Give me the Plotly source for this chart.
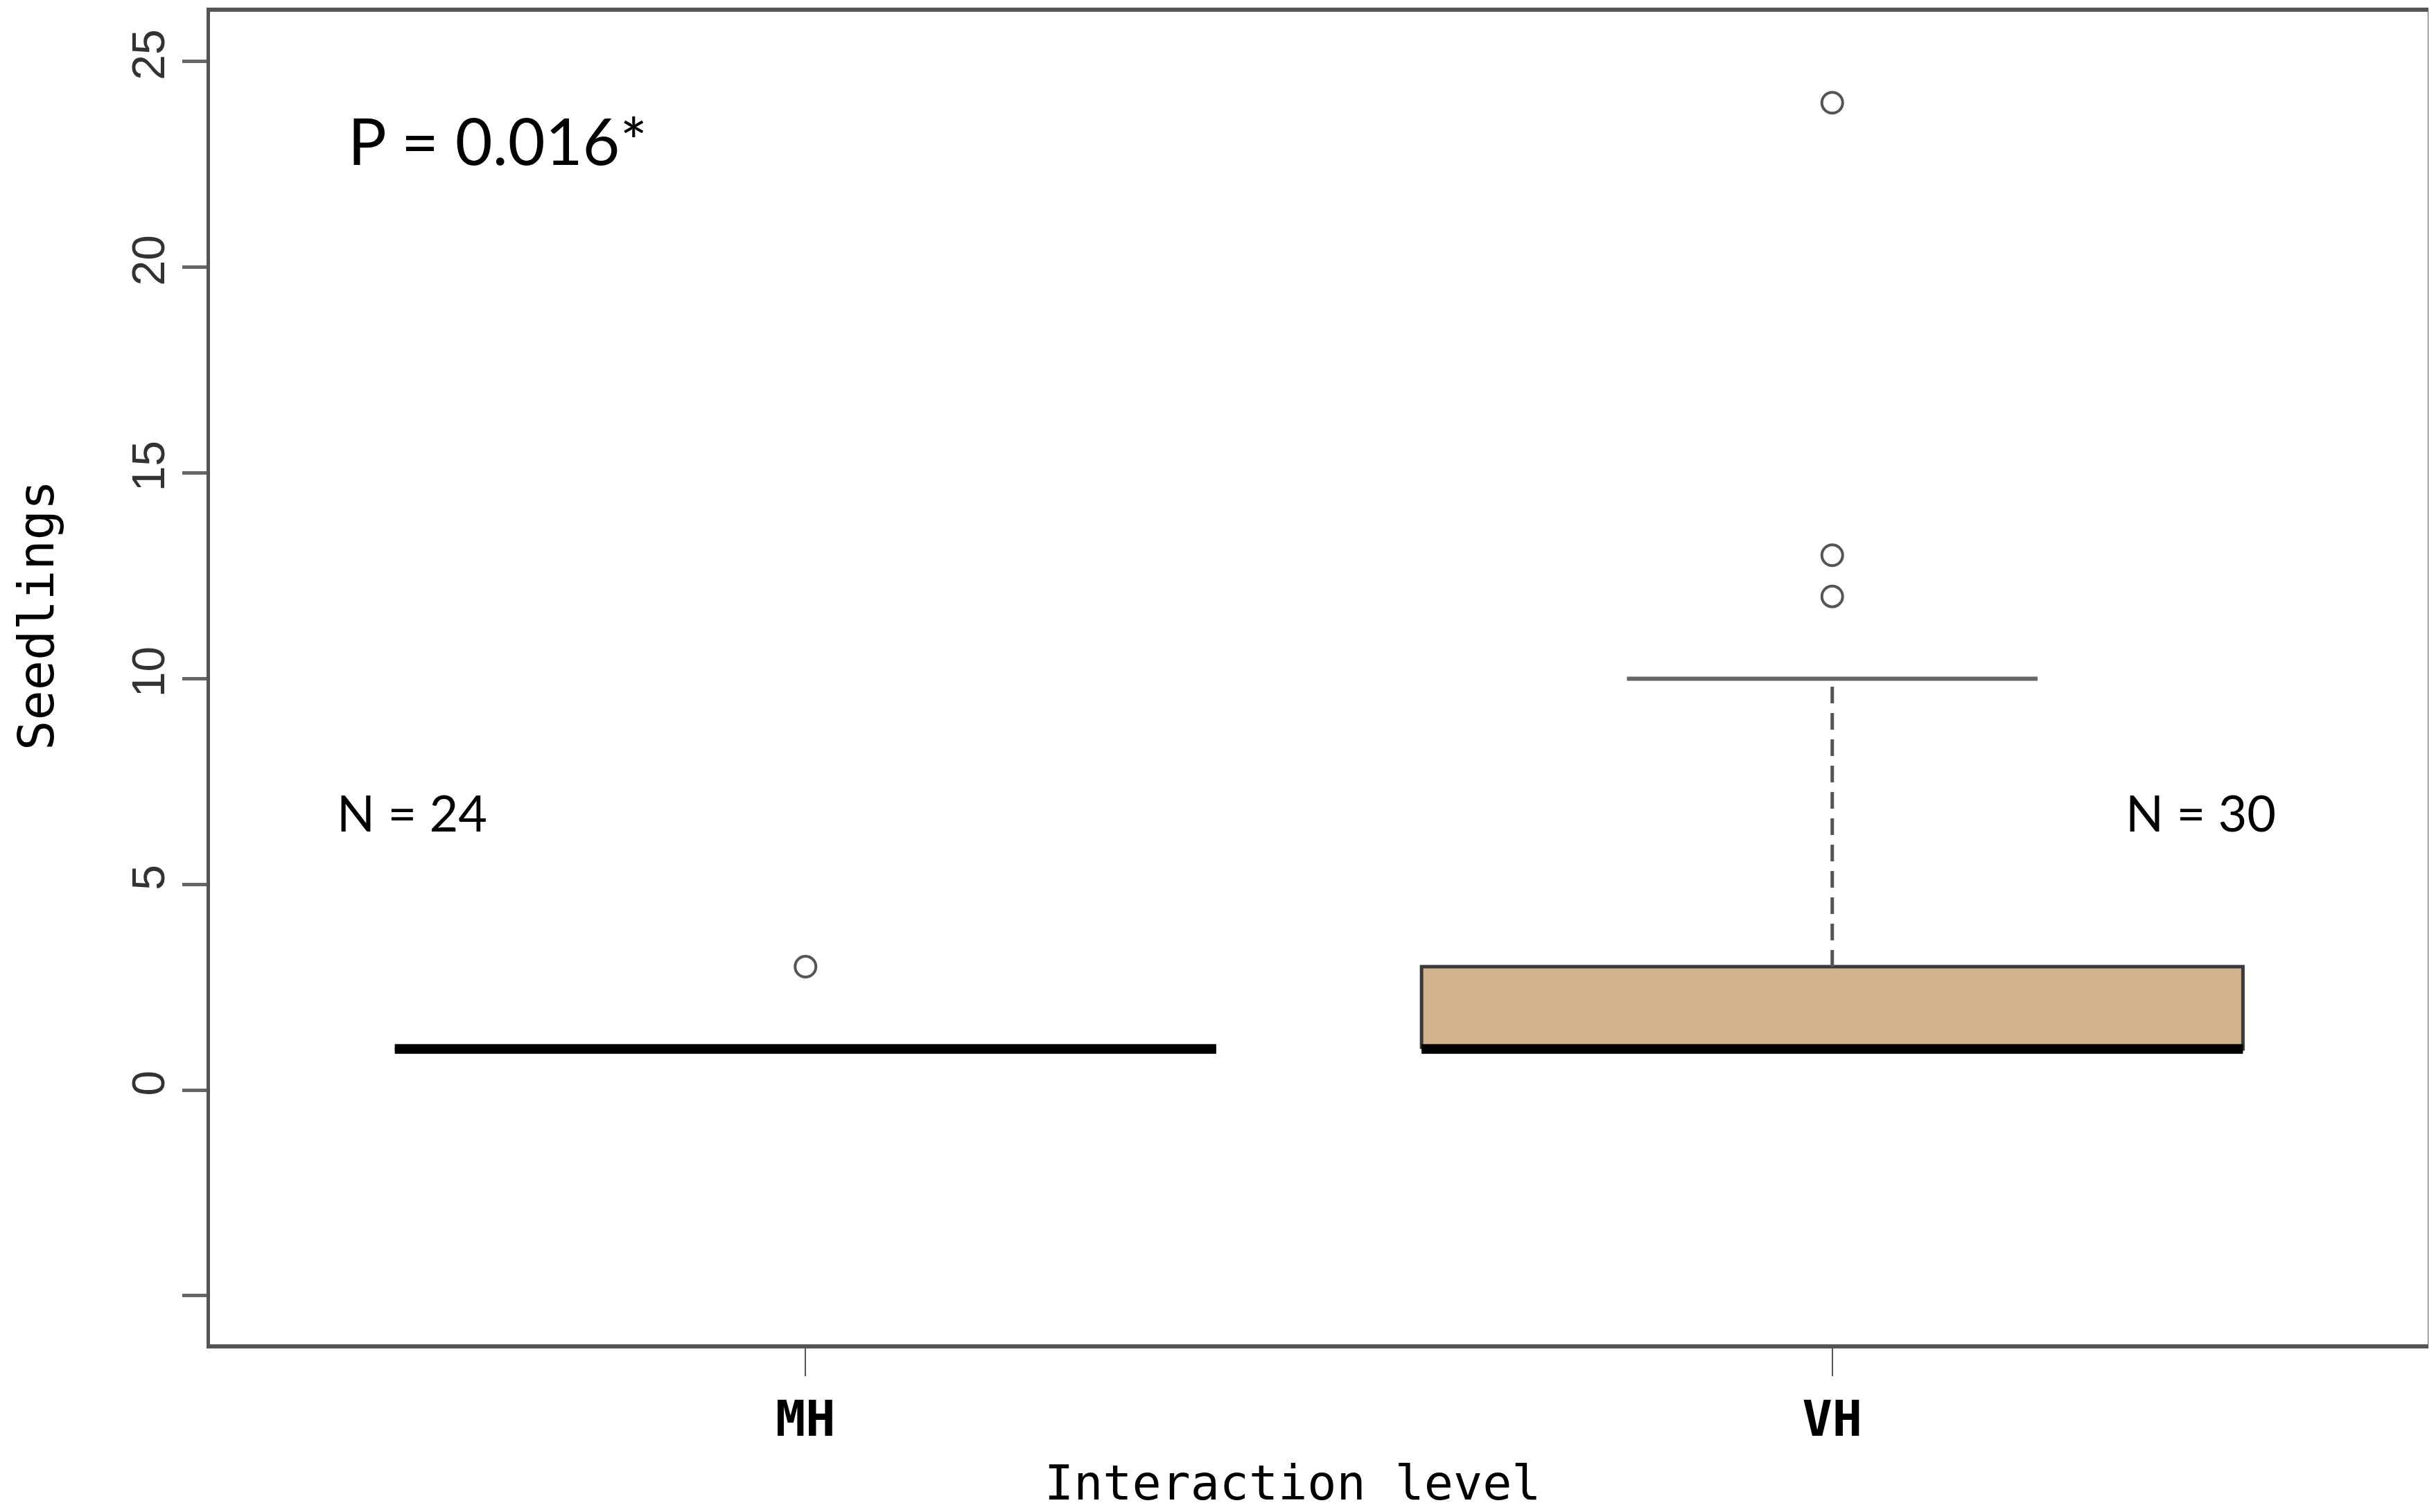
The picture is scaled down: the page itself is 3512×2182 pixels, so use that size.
import plotly.graph_objects as go

# box statistics
groups = ["MH", "VH"]
group_pos = [1, 2]
q1 = [1, 1]
median = [1, 1]
q3 = [1, 3]
lower_whisker = [1, 1]
upper_whisker = [1, 10]
outliers = [[3], [12, 13, 24]]
n_obs = [24, 30]
n_label_x = [0.617, 2.359]
n_label_y = 6.75
p_text = "P = 0.016*"

y_ticks = [-5, 0, 5, 10, 15, 20, 25]
y_tick_text = ["", "0", "5", "10", "15", "20", "25"]

BOX_HALF = 0.4
CAP_HALF = 0.2
TAN = "#D2B48C"

fig = go.Figure()

for i, g in enumerate(groups):
    x0 = group_pos[i] - BOX_HALF
    x1 = group_pos[i] + BOX_HALF
    # box body
    fig.add_trace(go.Scatter(
        x=[x0, x1, x1, x0, x0],
        y=[q1[i], q1[i], q3[i], q3[i], q1[i]],
        mode="lines", fill="toself", fillcolor=TAN,
        line=dict(color="#3a3a3a", width=5),
        showlegend=False, hoverinfo="skip"
    ))
    # whiskers (dashed)
    fig.add_trace(go.Scatter(
        x=[group_pos[i], group_pos[i], None, group_pos[i], group_pos[i]],
        y=[q3[i], upper_whisker[i], None, q1[i], lower_whisker[i]],
        mode="lines", line=dict(color="#555555", width=5, dash="24px,14px"),
        showlegend=False, hoverinfo="skip"
    ))
    # whisker caps
    fig.add_trace(go.Scatter(
        x=[group_pos[i] - CAP_HALF, group_pos[i] + CAP_HALF, None,
           group_pos[i] - CAP_HALF, group_pos[i] + CAP_HALF],
        y=[upper_whisker[i], upper_whisker[i], None,
           lower_whisker[i], lower_whisker[i]],
        mode="lines", line=dict(color="#666666", width=6),
        showlegend=False, hoverinfo="skip"
    ))
    # median
    fig.add_trace(go.Scatter(
        x=[x0, x1], y=[median[i], median[i]],
        mode="lines", line=dict(color="black", width=14),
        showlegend=False, hoverinfo="skip"
    ))
    # outliers
    fig.add_trace(go.Scatter(
        x=[group_pos[i]] * len(outliers[i]), y=outliers[i],
        mode="markers",
        marker=dict(symbol="circle-open", size=30, color="#555555",
                    line=dict(width=4, color="#555555")),
        showlegend=False
    ))
    # N labels
    fig.add_annotation(
        x=n_label_x[i], y=n_label_y, text=f"N = {n_obs[i]}", showarrow=False,
        font=dict(family="Lato", size=72, color="black")
    )

fig.add_annotation(
    x=0.70, y=23.1, text=p_text, showarrow=False,
    font=dict(family="Lato", size=93, color="black")
)

# axis titles as annotations so they sit where R put them
fig.add_annotation(
    xref="paper", yref="paper", x=-0.0785, y=0.547,
    text="Seedlings", textangle=-90, showarrow=False,
    xanchor="center", yanchor="middle",
    font=dict(family="DejaVu Sans Mono", size=72, color="black")
)
fig.add_annotation(
    xref="paper", yref="paper", x=0.488, y=-0.104,
    text="Interaction level", showarrow=False,
    xanchor="center", yanchor="middle",
    font=dict(family="DejaVu Sans Mono", size=70, color="black")
)

fig.update_layout(
    width=3504,
    height=2174,
    margin=dict(l=295, r=9, t=3, b=242),
    paper_bgcolor="white",
    plot_bgcolor="white",
    xaxis=dict(
        range=[0.42, 2.58],
        tickvals=group_pos,
        ticktext=groups,
        ticks="outside", ticklen=40, tickwidth=2, tickcolor="#555555",
        tickfont=dict(family="DejaVu Sans Mono", size=72, color="black", weight="bold"),
        showline=True, linecolor="#555555", linewidth=6, mirror=True,
        showgrid=False, zeroline=False,
    ),
    yaxis=dict(
        range=[-6.18, 26.21],
        tickvals=y_ticks,
        ticktext=y_tick_text,
        tickangle=-90,
        ticks="outside", ticklen=35, tickwidth=5, tickcolor="#666666",
        tickfont=dict(family="Liberation Sans", size=66, color="#333333"),
        showline=True, linecolor="#555555", linewidth=5, mirror=True,
        showgrid=False, zeroline=False,
    ),
)

fig.write_html("out.html")
